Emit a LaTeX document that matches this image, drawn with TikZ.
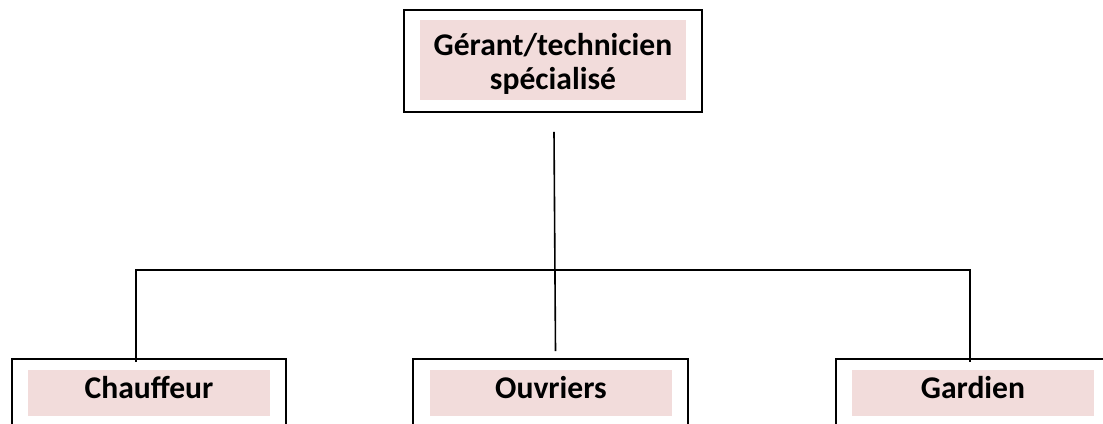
\documentclass[tikz,border=0pt]{standalone}
\usepackage{fontspec}
\setmainfont{Carlito}
\usetikzlibrary{positioning,calc}
\definecolor{rosepale}{HTML}{F2DCDB}

\begin{document}
\begin{tikzpicture}[x=1pt, y=-1pt, line width=1.6pt,
    cadre/.style={draw, fill=white, rectangle, inner sep=0pt},
    texte/.style={inner sep=0pt, align=center, font=\fontsize{31.6}{34}\selectfont\bfseries},
    etiquette/.style={texte, fill=rosepale, text height=20pt, text depth=10pt}]
        \useasboundingbox (0,0) rectangle (1103,423);
        \clip (0,0) rectangle (1103,423);
        \fill[white] (0,0) rectangle (1103,423);
        \node[cadre, minimum width=298pt, minimum height=102pt] (gerant) at (553,61) {};
        \node[fill=rosepale, minimum width=266pt, minimum height=80pt, inner sep=0pt] (gerantFond) at (553,60) {};
        \node[texte] (gerantTxt) at (553,64) {Gérant/technicien\\spécialisé};
        \node[cadre, minimum width=274pt, minimum height=100pt] (chauffeur) at (149,409) {};
        \node[etiquette, minimum width=242pt, minimum height=46pt] (chauffeurTxt) at (149,393) {Chauffeur};
        \node[cadre, minimum width=275pt, minimum height=100pt] (ouvriers) at (550.5,409) {};
        \node[etiquette, minimum width=242pt, minimum height=46pt] (ouvriersTxt) at (551,393) {Ouvriers};
        \node[cadre, minimum width=275pt, minimum height=100pt] (gardien) at (973.5,409) {};
        \node[etiquette, minimum width=242pt, minimum height=46pt] (gardienTxt) at (973,393) {Gardien};
        \draw ([xshift=1pt,yshift=-19pt]gerant.south) -- ([xshift=5pt,yshift=7pt]ouvriers.north);
        \draw ([xshift=-13pt,yshift=-4pt]chauffeur.north) -- ++(0,-92) -| ([xshift=-3.5pt,yshift=-4pt]gardien.north);
      \end{tikzpicture}
\end{document}
